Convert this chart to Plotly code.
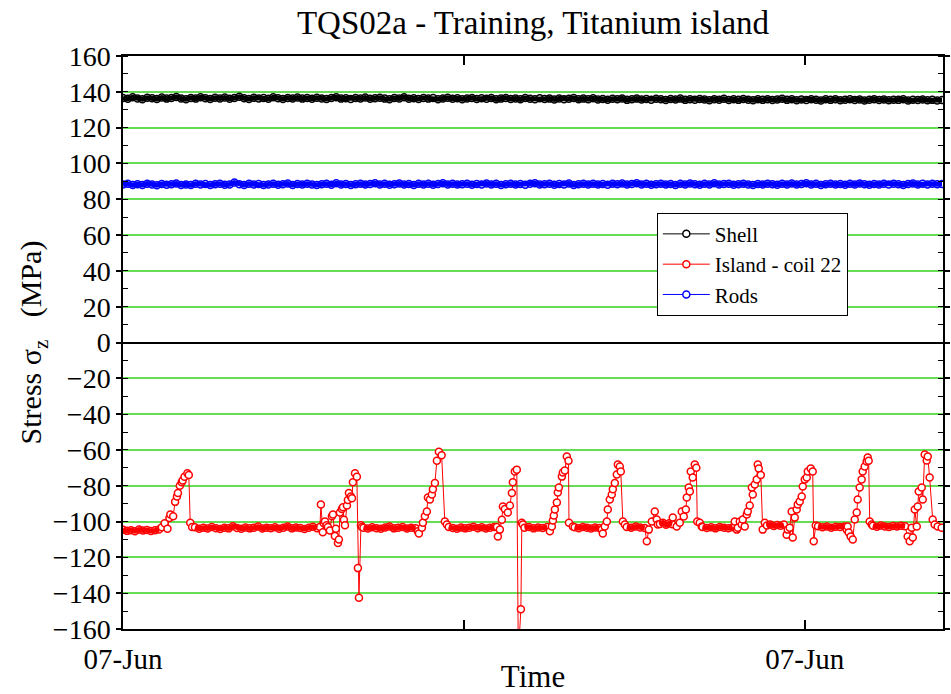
import numpy as np
import plotly.graph_objects as go

# ---------------- data (time in minutes from the first 07-Jun tick) ----------------
tick_times = [0, 360, 720]
tick_labels = ["07-Jun", "", "07-Jun"]
t_end = 865

shell_stress = [
    136.6,136.1,136.9,136.3,135.9,136.7,136.4,136.0,136.8,136.2,
    136.5,137.1,136.3,135.9,136.6,136.2,136.9,136.4,136.0,136.7,
    136.3,136.8,136.1,136.5,137.2,136.4,136.0,136.7,136.3,136.6,
    136.1,136.9,136.4,136.0,136.6,136.3,136.8,136.2,136.5,136.1,
    136.7,136.3,136.0,136.5,136.9,136.2,136.4,136.0,136.6,136.3,
    136.8,136.1,136.4,136.7,136.2,135.9,136.5,136.3,137.0,136.1,
    136.4,136.0,136.6,136.2,136.5,135.9,136.3,136.7,136.1,136.4,
    135.9,136.3,136.6,136.0,136.4,136.1,136.5,135.8,136.2,136.6,
    136.0,136.3,135.8,136.5,136.1,135.9,136.4,136.0,136.2,135.7,
    136.3,135.9,136.1,136.5,135.8,136.2,135.9,136.4,135.7,136.0,
    135.6,136.1,135.8,136.3,135.5,135.9,136.2,135.7,136.0,135.6,
    136.1,135.8,135.4,136.0,135.7,136.2,135.5,135.9,135.6,136.0,
    135.7,135.3,135.9,135.6,136.1,135.4,135.8,135.5,136.0,135.6,
    135.3,135.8,135.5,135.9,135.4,135.7,136.1,135.5,135.8,135.3,
    135.7,135.4,135.9,135.6,135.2,135.8,135.5,135.9,135.3,135.6,
    135.8,135.4,135.7,135.2,135.6,135.9,135.4,135.7,135.3,135.6,
    135.5,135.8,135.2,135.6,135.4,135.7,135.3,135.5,135.2,135.4,
]

rods_stress = [
    88.2,88.6,87.9,88.4,88.0,88.7,88.3,87.8,88.5,88.1,
    88.4,88.8,88.0,88.3,87.9,88.6,88.2,88.5,88.0,88.4,
    88.7,88.1,88.3,89.3,88.4,88.0,88.6,88.2,88.5,87.9,
    88.3,88.6,88.1,88.4,88.8,88.0,88.5,88.2,88.7,88.3,
    88.0,88.4,88.6,88.1,88.9,88.3,88.5,88.0,88.4,88.7,
    88.2,88.5,88.9,88.3,88.6,88.1,88.4,88.8,88.2,88.5,
    88.0,88.6,88.3,88.7,88.1,88.5,88.9,88.3,88.6,88.2,
    88.4,88.7,88.1,88.5,88.3,88.8,88.2,88.6,88.0,88.4,
    88.7,88.3,88.5,88.1,88.6,88.9,88.2,88.4,88.7,88.1,
    88.5,88.3,88.8,88.0,88.4,88.6,88.2,88.7,88.3,88.5,
    88.1,88.6,88.4,88.8,88.2,88.5,88.9,88.3,88.6,88.1,
    88.4,88.7,88.2,88.5,88.0,88.6,88.3,88.8,88.4,88.1,
    88.6,88.3,88.9,88.2,88.5,88.7,88.1,88.4,88.6,88.3,
    88.0,88.5,88.2,88.7,88.4,88.1,88.6,88.3,88.8,88.2,
    88.5,88.9,88.3,88.6,88.0,88.4,88.7,88.2,88.5,88.1,
    88.6,88.3,88.8,88.4,88.1,88.5,88.2,88.7,88.3,88.6,
    88.4,88.0,88.5,88.8,88.2,88.6,88.3,88.7,88.4,88.5,
]

# Island: quiet stretches (start, end, readings) -- readings evenly spaced in time
island_quiet_start = [0, 76, 254, 344, 424, 477, 532, 567, 612, 680, 734, 792]
island_quiet_end   = [38, 205, 309, 392, 448, 503, 551, 580, 644, 698, 762, 826]
island_quiet_values = [
    [-104.6,-105.2,-104.8,-105.4,-104.5,-105.0,-104.7,-105.3,-104.9,-104.4],
    [-103.2,-104.0,-103.5,-103.9,-103.1,-103.7,-104.1,-103.4,-103.8,-102.6,
     -103.6,-104.0,-103.3,-103.8,-103.5,-102.8,-103.9,-103.4,-103.7,-103.2,
     -104.0,-103.5,-102.7,-103.8,-103.3,-103.6,-104.1,-103.4,-102.9,-103.7],
    [-103.4,-103.9,-103.2,-103.7,-104.0,-103.3,-102.8,-103.8,-103.5,-103.1,-103.9,-103.4,-103.7],
    [-103.1,-103.6,-104.0,-103.3,-103.8,-103.4,-102.9,-103.7,-103.2,-103.9,-103.5,-103.0],
    [-103.4,-103.0,-103.8,-103.3,-103.6,-103.1],
    [-103.2,-103.7,-103.0,-103.5,-103.9,-103.3,-103.6],
    [-103.0,-103.5,-102.8,-103.3,-103.6],
    [-101.3,-100.6,-101.8,-101.0,-101.5],
    [-103.1,-103.6,-103.2,-103.8,-103.0,-103.4,-103.7,-103.2],
    [-102.2,-101.6,-102.5,-101.9,-102.3,-101.7],
    [-102.6,-103.2,-102.8,-103.4,-102.9,-103.1,-102.7],
    [-102.4,-102.9,-102.2,-102.7,-103.0,-102.5,-102.8,-102.3,-102.6],
]

# Island: quench / ramp events
island_event_time = [
    41,44,47,49,50,53,55,57,58,60,62,63,65,68,69.5,71,73,
    208,209,211,212,213.3,215,216.4,218.5,220.6,221.7,223.8,224.8,227,228,229.1,231.2,232.3,
    233.3,234.4,236.5,237.5,238.6,240.7,241.8,242.8,245,247,248.1,249.2,251.3,252.3,
    311.4,312.5,315.7,316.7,318.8,320.9,322,324.1,326.2,327.3,329.4,331.5,333.6,336.5,339.9,342,
    394.8,395.9,398,400.1,401.2,403.3,406.4,408.6,410.7,411.7,413.8,415.9,417.5,420.2,421.2,422.3,
    450.8,452.9,454,455,456.1,458.2,459.2,460.3,463.5,464.5,466.6,468.7,470.5,471,475.1,
    505.7,506.7,508.8,511,512,514.1,516.2,517.3,519.4,521.5,522.6,524.7,525.7,527.9,530,
    553.2,555.3,558.5,561.6,563.7,564.8,
    580.6,584.8,588,590.1,592.2,594.4,595.4,597.5,598.6,599.6,601.7,603.9,605.5,606.5,609.1,611.3,
    646.1,648.2,649.3,651.4,653.5,654.5,656.6,658.8,659.8,661.9,664.1,665.1,667.2,669.3,670.4,
    671.4,673.6,675.6,677.8,
    700.9,702,704.1,706.2,707.3,709.4,711.5,712.6,714.7,716.8,717.9,720,722.1,723.2,726.3,728.4,
    729.5,731.6,
    764.3,765.3,766.4,768.5,770.7,772.8,774.9,775.9,778,780.1,781.2,783.3,785.4,786.5,787.5,
    788.6,790.7,
    828.7,830.9,833,834.1,836.2,838.3,839.3,840.4,843.5,844.6,846.7,848.8,849.9,851.9,855.1,
    857.2,860.4,864.6,
]
island_event_stress = [
    -103.2,-101,-104,-98,-96,-97,-89,-86,-84,-80,-78,-77,-75,-73,-74,-100.6,-103,
    -103,-90.5,-106,-101,-100,-102,-103,-105,-97,-96,-108,-104,-112,-110,-95,-93,-92,
    -99,-102,-91,-88,-84,-86,-87,-78,-73,-75,-126,-142.5,-102,-103,
    -105.4,-106.7,-103.4,-100.6,-97,-94.4,-86.6,-87.7,-84.9,-82,-78.4,-66,-61,-63,-100,-101.7,
    -103,-108.4,-104.5,-99,-91.6,-93,-95,-91,-84,-78,-72,-71,-175,-149,-100.6,-101.7,
    -105.4,-102.8,-99.4,-96.6,-93.3,-89.4,-83.8,-81,-74.9,-72.6,-71.5,-63.7,-66,-100.6,-102.8,
    -104.5,-106.7,-102.8,-100,-93.3,-87.7,-84.9,-82,-78.4,-73.7,-68.2,-69.3,-72,-100,-101.7,
    -111,-104.5,-100,-94.4,-98.9,-101.7,
    -97.8,-102.8,-100.6,-94.4,-97.2,-93.3,-86.6,-81,-83.2,-72,-75.4,-68.2,-70,-100,-100.6,-102.8,
    -100,-104.5,-103.4,-100,-101.7,-98.9,-102.8,-96,-94.4,-91,-81,-84.9,-79.3,-76.5,-68.2,
    -70.4,-74,-104.5,-100.6,
    -107.3,-104.5,-103.4,-94.4,-108.9,-97.8,-93.3,-90.5,-88.8,-86,-80.4,-76.5,-75.4,-72,-70.4,-72,
    -111,-102.2,
    -104.5,-102.8,-106.1,-108.4,-110,-98.9,-95,-87.7,-81,-76.5,-72,-69.3,-66.5,-64.2,-66,
    -100,-101.7,
    -108.4,-111,-103.4,-108.9,-93.3,-102.8,-91.6,-83.2,-81,-87.7,-62.6,-65.9,-63.7,-75.4,-98.9,
    -101.7,-102.8,-103.4,
]

# ---------------- assemble series ----------------
shell_time = np.linspace(0, t_end, len(shell_stress))
rods_time = np.linspace(0, t_end, len(rods_stress))

isl_t = list(island_event_time)
isl_v = list(island_event_stress)
quiet_t, quiet_v = [], []
for t0, t1, vals in zip(island_quiet_start, island_quiet_end, island_quiet_values):
    ts = np.linspace(t0, t1, len(vals)).tolist()
    isl_t.extend(ts)
    isl_v.extend(vals)
    quiet_t.extend(ts + [None])
    quiet_v.extend(list(vals) + [None])
order = np.argsort(isl_t, kind="stable")
isl_t = np.array(isl_t)[order]
isl_v = np.array(isl_v)[order]

FONT = "Liberation Serif"
GREEN = "#66dd55"
RED = "#ff0000"
BLUE = "#0000ff"


def trace(x, y, name, color, size):
    return go.Scatter(
        x=x, y=y, name=name, mode="lines+markers",
        line=dict(color=color, width=1),
        marker=dict(symbol="circle", size=size, color="white",
                    line=dict(color=color, width=1.5)),
    )


def band(x, y, color, width):
    # dense sampling in the original makes the markers merge into a solid band
    return go.Scatter(x=x, y=y, mode="lines", showlegend=False, hoverinfo="skip",
                      line=dict(color=color, width=width), connectgaps=False)


fig = go.Figure()
fig.add_trace(trace(shell_time, shell_stress, "Shell", "black", 7))
fig.add_trace(trace(isl_t, isl_v, "Island - coil 22", RED, 7))
fig.add_trace(trace(rods_time, rods_stress, "Rods", BLUE, 7))
fig.add_trace(band(shell_time, shell_stress, "black", 5))
fig.add_trace(band(rods_time, rods_stress, BLUE, 5))
fig.add_trace(band(quiet_t, quiet_v, RED, 5))

fig.update_layout(
    width=951, height=694,
    margin=dict(l=123, r=8, t=56, b=65),
    paper_bgcolor="white", plot_bgcolor="white",
    font=dict(family=FONT, color="black", size=22),
    title=dict(text="TQS02a - Training, Titanium island", x=0.5, xref="paper",
               xanchor="center", y=0.968, yref="container", yanchor="middle",
               font=dict(family=FONT, size=33, color="black")),
    showlegend=True,
    legend=dict(x=0.651, y=0.7265, xanchor="left", yanchor="top",
                bgcolor="white", bordercolor="black", borderwidth=1,
                font=dict(family=FONT, size=21, color="black"),
                tracegroupgap=0, itemwidth=47, traceorder="normal"),
)

fig.update_xaxes(
    range=[0, t_end + 1], tickvals=tick_times, ticktext=tick_labels,
    ticks="inside", ticklen=9, tickwidth=1.5, tickcolor="black",
    showline=True, linecolor="black", linewidth=1.5, mirror="allticks",
    showgrid=False, zeroline=False, automargin=False, ticklabelstandoff=3,
    tickfont=dict(family=FONT, size=29, color="black"),
    title=dict(text="Time", font=dict(family=FONT, size=31, color="black"), standoff=2),
)
fig.update_yaxes(
    range=[-160, 160], tick0=0, dtick=20,
    ticks="outside", ticklen=5, tickwidth=1.5, tickcolor="black",
    showline=True, linecolor="black", linewidth=1.5, mirror="allticks",
    showgrid=True, gridcolor=GREEN, gridwidth=1.5,
    zeroline=True, zerolinecolor="black", zerolinewidth=1.5, automargin=False,
    minor=dict(dtick=10, ticks="inside", ticklen=5, tickwidth=1.2,
               tickcolor="black", showgrid=False),
    tickfont=dict(family=FONT, size=28, color="black"),
    title=dict(text="Stress σ<sub>z</sub>&nbsp;&nbsp;&nbsp;(MPa)",
               font=dict(family=FONT, size=30, color="black"), standoff=2),
)

fig.write_html("out.html")
